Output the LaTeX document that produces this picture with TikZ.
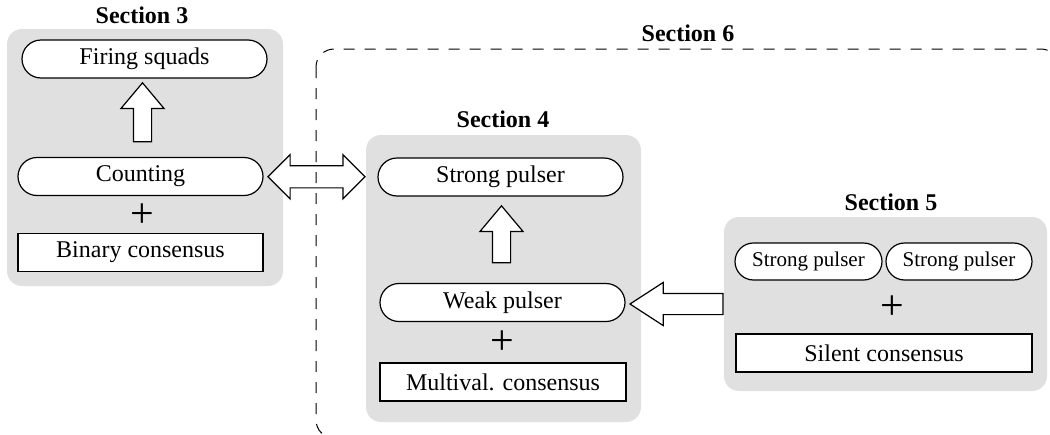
\documentclass[tikz,border=0pt]{standalone}
\usepackage{fontspec}
\setmainfont{Liberation Serif}
\usepackage{tikz}
\usetikzlibrary{shapes.misc, shapes.arrows, calc}

\begin{document}
\begin{tikzpicture}%
                    [x={(0.5pt, 0pt)},
                    y={(0pt, -0.5pt)},
                    font=\fontsize{12}{14}\selectfont,
                    panel/.style={fill=black!12, rounded corners=7.5pt, inner sep=0pt},
                    title/.style={font=\fontsize{12}{14}\selectfont\bfseries, inner sep=0pt},
                    pill/.style={rounded rectangle, draw, fill=white, line width=0.6pt, inner sep=0pt, minimum height=19pt},
                    plainbox/.style={rectangle, draw, fill=white, line width=0.6pt, inner sep=0pt, minimum height=19pt},
                    plus/.style={font=\fontsize{21}{21}\selectfont, inner sep=0pt},
                    blockup/.style={single arrow, draw, fill=white, line width=0.6pt, inner sep=4.25pt,
                                    minimum width=21pt, single arrow head extend=6.25pt,
                                    single arrow tip angle=80, shape border rotate=90},
                    blockleft/.style={single arrow, draw, fill=white, line width=0.6pt, inner sep=5pt,
                                    minimum width=21pt, single arrow head extend=5.5pt,
                                    single arrow tip angle=66, shape border rotate=180},
                    blockboth/.style={double arrow, draw, fill=white, line width=0.6pt, inner sep=5.25pt,
                                    minimum width=21.5pt, double arrow head extend=5.5pt},
                    sixbox/.style={dashed, dash pattern=on 5.5pt off 5pt, line width=0.5pt, rounded corners=9pt}]

                \useasboundingbox (0,0) rectangle (1050,434);
                %% Grey panels
                \node[panel, minimum width=138pt, minimum height=128.5pt] (sec3) at (145,157.5) {};
                \node[panel, minimum width=137.5pt, minimum height=143.5pt] (sec4) at (503.5,278.5) {};
                \node[panel, minimum width=161.5pt, minimum height=87pt] (sec5) at (885.5,304) {};
                %% Titles
                \node[title] (t3) at (142,15) {Section 3};
                \node[title] (t4) at (503,119) {Section 4};
                \node[title] (t5) at (891,202) {Section 5};
                \node[title] (t6) at (688,33) {Section 6};
                %%
                %% Section 3
                %%
                \node[pill, minimum width=122.5pt] (fire) at (144.5,59) {Firing squads};
                \node[pill, minimum width=122.5pt] (count) at (140.5,176.5) {Counting};
                \node[plus] (plus3) at (142,216) {+};
                \node[plainbox, minimum width=122.5pt] (binary) at (140.5,252.5) {Binary consensus};
                %%
                %% Section 4
                %%
                \node[pill, minimum width=122.5pt] (strong) at (500.5,177) {Strong pulser};
                \node[pill, minimum width=122.5pt] (weak) at (502.5,302.5) {Weak pulser};
                \node[plus] (plus4) at (502,343) {+};
                \node[plainbox, minimum width=123pt] (multi) at (503,382) {Multival. consensus};
                %%
                %% Section 5
                %%
                \node[pill, minimum width=73.5pt, minimum height=18.5pt, font=\fontsize{10.5}{12}\selectfont] (sp1) at (808.5,261.5) {Strong pulser};
                \node[pill, minimum width=73pt, minimum height=18.5pt, font=\fontsize{10.5}{12}\selectfont] (sp2) at (959,261.5) {Strong pulser};
                \node[plus] (plus5) at (892,308) {+};
                \node[plainbox, minimum width=148pt] (silent) at (884,353) {Silent consensus};
                %%
                %% Block arrows
                %%
                \node[blockup, minimum height=29.5pt] (up3) at ($(fire.south)!0.5!(count.north)$) {};
                \node[blockup, minimum height=28.5pt] (up4) at ($(strong.south)!0.5!(weak.north)$) {};
                \node[blockboth, minimum height=48.5pt] (both) at ($(count.east)!0.5!(strong.west)+(-4,0)$) {};
                \node[blockleft, minimum height=46.5pt, anchor=tail] (left5) at (sec5.west) {};
                %%
                %% Dashed frame of Section 6
                %%
                \draw[sixbox] (316,49) rectangle (1059,438);
\end{tikzpicture}
\end{document}
